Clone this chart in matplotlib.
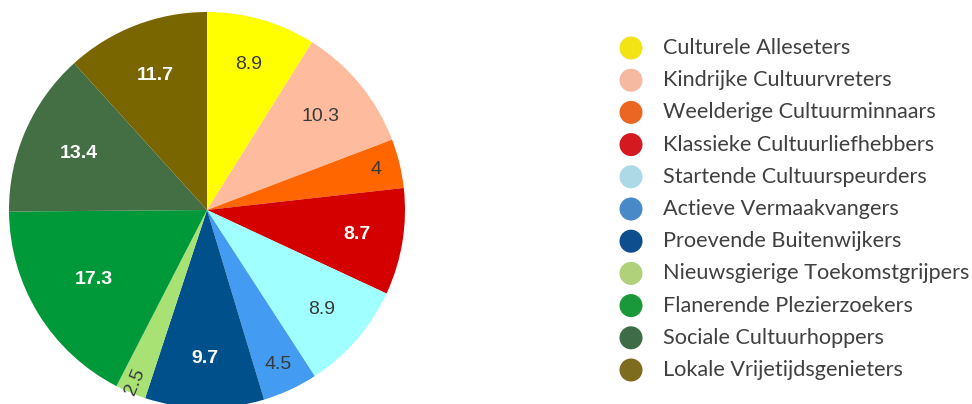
import numpy as np
import matplotlib
matplotlib.use('Agg')
import matplotlib.pyplot as plt

# segment data
segments = ['Culturele Alleseters', 'Kindrijke Cultuurvreters', 'Weelderige Cultuurminnaars',
            'Klassieke Cultuurliefhebbers', 'Startende Cultuurspeurders', 'Actieve Vermaakvangers',
            'Proevende Buitenwijkers', 'Nieuwsgierige Toekomstgrijpers', 'Flanerende Plezierzoekers',
            'Sociale Cultuurhoppers', 'Lokale Vrijetijdsgenieters']
shares = [8.9, 10.3, 4, 8.7, 8.9, 4.5, 9.7, 2.5, 17.3, 13.4, 11.7]

pie_colors = ['#FFFF00', '#FFBB9E', '#FF6600', '#D40000', '#A0FFFF', '#449BF2',
              '#00508C', '#A8E274', '#00993A', '#446E44', '#7A6600']
legend_colors = ['#F2E314', '#F5B9A1', '#EC6623', '#D51920', '#ADD9E6', '#4A89C8',
                 '#0E4E8E', '#B0D07A', '#1A993B', '#3E6C46', '#7D6B1E']
white_text = [False, False, False, True, False, False, True, False, True, True, True]

W, H = 972, 404
fig = plt.figure(figsize=(W / 100, H / 100), dpi=100)

# pie axes, square in pixels
cx, cy, r = 207, 210, 198
ax = fig.add_axes([(cx - r) / W, (H - cy - r) / H, 2 * r / W, 2 * r / H])
wedges, _ = ax.pie(shares, colors=pie_colors, startangle=90, counterclock=False,
                   radius=1, wedgeprops=dict(linewidth=0))
ax.set_xlim(-1, 1)
ax.set_ylim(-1, 1)
ax.axis('off')

total = sum(shares)
start = 0.0
for v, w, wt in zip(shares, wedges, white_text):
    mid = (start + v / 2) / total * 2 * np.pi
    start += v
    # bigger slices get their label closer to the centre
    dist = 1.07 - 0.14 * np.log(v)
    x, y = dist * np.sin(mid), dist * np.cos(mid)
    rot = 0
    if v < 3:
        rot = np.degrees(np.pi / 2 - mid) + 180
    ax.text(x, y, f'{v:g}', ha='center', va='center', rotation=rot,
            fontsize=14, family='Liberation Sans',
            color='white' if wt else '#3a3a3a',
            fontweight='bold' if wt else 'normal')

# legend drawn as its own little axes
top, step = 48, 32.2
lax = fig.add_axes([0, 0, 1, 1])
lax.set_xlim(0, W)
lax.set_ylim(H, 0)
lax.axis('off')
for i, (name, c) in enumerate(zip(segments, legend_colors)):
    yy = top + step * i
    lax.scatter([631], [yy], s=23 ** 2 * 0.52, color=c, edgecolors='none')
    lax.text(663, yy, name, va='center', ha='left', fontsize=15.6,
             family='Lato', color='#404040')

fig.savefig('out.png', dpi=100)
